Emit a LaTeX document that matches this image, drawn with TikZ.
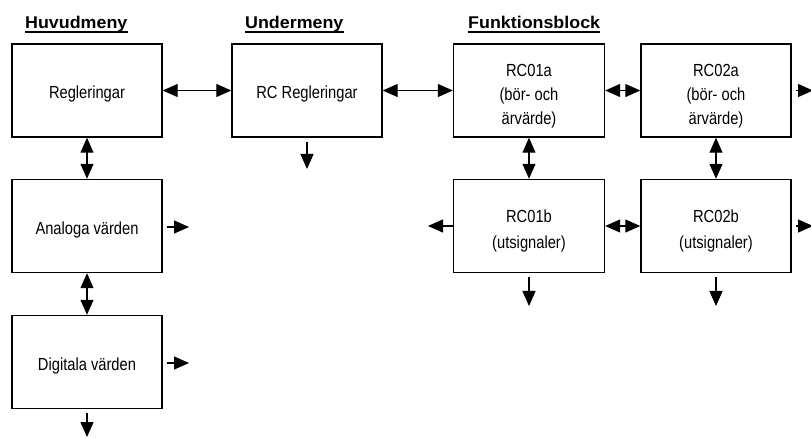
\documentclass[tikz,border=0pt]{standalone}
\usepackage{fontspec}
\usepackage{graphicx}
\setmainfont{Liberation Sans}
\usetikzlibrary{arrows.meta}
\newcommand{\bt}[1]{\scalebox{0.84}[1]{\begin{tabular}{@{}c@{}}#1\end{tabular}}}
\newcommand{\hd}[1]{\scalebox{1.05}[1]{\bfseries #1}}
\begin{document}
\begin{tikzpicture}[x=1pt,y=-1pt,
  blk/.style={draw,line width=1.4pt,minimum width=150pt,minimum height=93pt,inner sep=0pt},
  txt/.style={inner sep=0pt,font=\fontsize{17.5}{24}\selectfont},
  hdr/.style={anchor=base west,inner sep=0pt,font=\fontsize{17}{20}\selectfont},
  con/.style={line width=1.2pt,-{Triangle[length=15pt,width=13pt]}},
  dcon/.style={line width=1.2pt,{Triangle[length=15pt,width=13pt]}-{Triangle[length=15pt,width=13pt]}}]
\useasboundingbox (0,0) rectangle (811,438);
% headings
\node[hdr] (h1) at (25,29) {\hd{Huvudmeny}};
\node[hdr] (h2) at (245,29) {\hd{Undermeny}};
\node[hdr] (h3) at (468,29) {\hd{Funktionsblock}};
\foreach \h in {h1,h2,h3}{\draw[line width=1.1pt] ([yshift=-3pt]\h.base west) -- ([yshift=-3pt]\h.base east);}
% boxes
\node[blk] (reg) at (87,90.5) {};
\node[blk] (ana) at (87,226) {};
\node[blk] (dig) at (87,362) {};
\node[blk] (rcr) at (307,90.5) {};
\node[blk,minimum width=151pt] (a1) at (529,90.5) {};
\node[blk] (a2) at (716,90.5) {};
\node[blk,minimum width=151pt] (b1) at (529,226) {};
\node[blk] (b2) at (716,226) {};
% texts
\node[txt] (treg) at ([yshift=-3.5pt]reg.center) {\bt{Regleringar}};
\node[txt] (tana) at ([yshift=-3.5pt]ana.center) {\bt{Analoga värden}};
\node[txt] (tdig) at ([yshift=-3.5pt]dig.center) {\bt{Digitala värden}};
\node[txt] (trcr) at ([yshift=-3.5pt]rcr.center) {\bt{RC Regleringar}};
\node[txt] (ta1) at ([yshift=-5.5pt]a1.center) {\bt{RC01a\\(bör- och\\ärvärde)}};
\node[txt] (ta2) at ([yshift=-5.5pt]a2.center) {\bt{RC02a\\(bör- och\\ärvärde)}};
\node[txt] (tb1) at ([yshift=-5pt]b1.center) {\bt{RC01b\\[2pt](utsignaler)}};
\node[txt] (tb2) at ([yshift=-5pt]b2.center) {\bt{RC02b\\[2pt](utsignaler)}};
% free ends
\coordinate (a2r) at (813,90.5);
\coordinate (b2r) at (813,226);
\coordinate (b1l) at (428,226);
\coordinate (b1d) at (529,306);
\coordinate (b2d) at (716,306);
\coordinate (rcrd) at (307,169);
\coordinate (anar) at (189,227);
\coordinate (digr) at (189,363);
\coordinate (digd) at (87,437);
% connectors
\draw[dcon] (reg) -- (rcr);
\draw[dcon] (rcr) -- (a1);
\draw[dcon] (a1) -- (a2);
\draw[dcon] (reg) -- (ana);
\draw[dcon] (ana) -- (dig);
\draw[dcon] (a1) -- (b1);
\draw[dcon] (a2) -- (b2);
\draw[dcon] (b1) -- (b2);
\draw[con,shorten <=4pt] (a2.east) -- (a2r);
\draw[con,shorten <=4pt] (b2.east) -- (b2r);
\draw[con] (b1.west) -- (b1l);
\draw[con,shorten <=4pt] (b1.south) -- (b1d);
\draw[con,shorten <=4pt] (b2.south) -- (b2d);
\draw[con,shorten <=4pt] (rcr.south) -- (rcrd);
\draw[con,shorten <=4pt] (ana.east |- anar) -- (anar);
\draw[con,shorten <=4pt] (dig.east |- digr) -- (digr);
\draw[con,shorten <=4pt] (dig.south) -- (digd);
\end{tikzpicture}
\end{document}
